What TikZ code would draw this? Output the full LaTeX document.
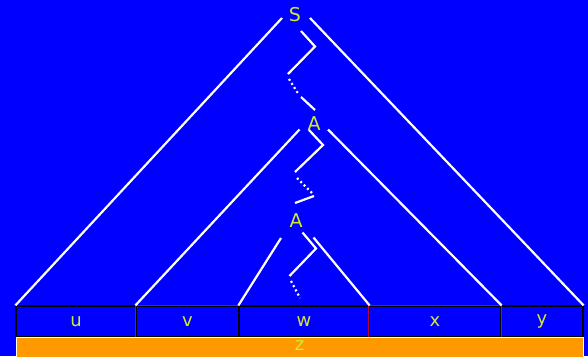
\documentclass[tikz,border=0pt]{standalone}
\usepackage{fontspec}
\setmainfont{DejaVu Sans}
\definecolor{bg}{RGB}{0,0,255}
\definecolor{lbl}{RGB}{210,235,50}
\definecolor{bar}{RGB}{255,153,0}
\definecolor{edgered}{RGB}{200,0,50}
\begin{document}
\begin{tikzpicture}[x=1pt, y=-1pt,
  sym/.style={text=lbl, font=\fontsize{19}{22}\selectfont, inner sep=0pt},
  cell/.style={draw=black, line width=1.2pt, minimum height=31pt, inner sep=0pt,
    text=lbl, font=\fontsize{18}{20}\selectfont},
  branch/.style={white, line width=2.2pt},
  gap/.style={white, line width=2.2pt, dash pattern=on 2pt off 2.8pt}]
  \useasboundingbox (0,0) rectangle (588,356);
  \fill[bg] (0,0) rectangle (588,356);

  % labels of the derivation
  \node[sym] (S)  at (295,15)  {S};
  \node[sym] (A1) at (314,124) {A};
  \node[sym] (A2) at (296,221) {A};

  % the split word
  \node[cell, minimum width=120pt] (u) at (76,321.5)    {u};
  \node[cell, minimum width=103pt] (v) at (187.5,321.5) {v};
  \node[cell, minimum width=130pt] (w) at (304,321.5)   {w};
  \node[cell, minimum width=132pt] (x) at (435,321.5)   {x};
  \node[cell, minimum width=82pt]  (y) at (542,321.5)   {y};
  \draw[edgered, line width=1.2pt] (v.south west) -- (v.north west) -- (v.north east);
  \draw[edgered, line width=1.2pt] (x.south west) -- (x.north west) -- (x.north east) -- (x.south east);
  \node[draw=white, line width=1pt, fill=bar, minimum width=567pt, minimum height=22pt,
    inner sep=0pt] (z) at (299.5,348) {};
  \node[text=lbl, font=\fontsize{18}{20}\selectfont] (zl) at (299.5,346) {z};

  % outer triangle
  \coordinate (sl) at (282,18);
  \coordinate (sr) at (310,18);
  \draw[branch] (sl) -- (u.north west);
  \draw[branch] (sr) -- (y.north east);
  \draw[branch] (301,31) -- (315,46.5) -- (288,74);
  \draw[gap] (289,79) -- (299,95);
  \draw[branch] (301,97) -- (315,110);

  % middle triangle
  \coordinate (al) at (299.5,129.5);
  \coordinate (ar) at (328,129.5);
  \draw[branch] (al) -- (v.north west);
  \draw[branch] (ar) -- (x.north east);
  \draw[branch] (309,130) -- (323,145) -- (295,172);
  \draw[gap] (297,178) -- (312,193);
  \draw[branch] (314,196) -- (295,203);

  % inner triangle
  \coordinate (bl) at (281,238);
  \coordinate (br) at (313.5,237.5);
  \draw[branch] (bl) -- (w.north west);
  \draw[branch] (br) -- (w.north east);
  \draw[branch] (302.5,232.5) -- (316,248.5) -- (289.5,276);
  \draw[gap] (291,281) -- (300,298);
\end{tikzpicture}
\end{document}
